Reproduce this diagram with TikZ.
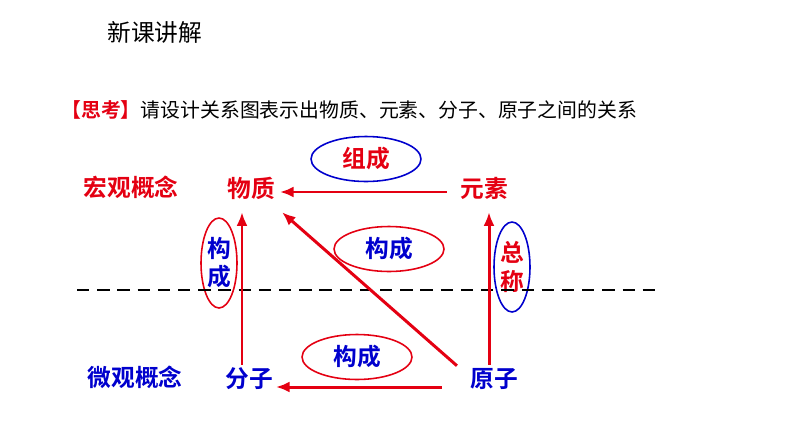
\documentclass[tikz,border=0pt]{standalone}
\usepackage{fontspec}
\setmainfont{Noto Sans CJK SC}[BoldFont={Noto Sans CJK SC Bold}]
\usetikzlibrary{shapes.geometric,arrows.meta}
\definecolor{hongse}{RGB}{228,0,18}
\definecolor{lanse}{RGB}{0,0,205}

\begin{document}
\begin{tikzpicture}[x=0.02cm,y=-0.02cm,
		concept/.style={font=\fontsize{13.5}{16}\selectfont\bfseries,inner sep=0pt,text height=0.8em,text depth=0.1em},
		oval/.style={draw,ellipse,line width=0.9pt,minimum width=2.2cm,minimum height=0.9cm,inner sep=0pt,font=\fontsize{13.5}{16}\selectfont\bfseries},
		tall/.style={oval,minimum width=0.72cm,minimum height=1.8cm,align=center},
		relarrow/.style={draw=hongse,line width=1.7pt,-{Latex[length=2.7mm,width=2.2mm]}}]
		\useasboundingbox (0,0) rectangle (794,447);
		\node[anchor=west,inner sep=0pt,font=\fontsize{13.5}{16}\selectfont] (title) at (107,32) {新课讲解};
		\node[anchor=west,inner sep=0pt,font=\fontsize{11.3}{14}\selectfont] (question) at (61,110) {\textcolor{hongse}{\bfseries 【思考】}请设计关系图表示出物质、元素、分子、原子之间的关系};
		% levels
		\node[concept,text=hongse] (hongguan) at (131,190) {宏观概念};
		\node[concept,text=lanse] (weiguan) at (135,380) {微观概念};
		% concepts
		\node[concept,text=hongse] (wuzhi) at (251,191) {物质};
		\node[concept,text=hongse] (yuansu) at (484,191) {元素};
		\node[concept,text=lanse] (fenzi) at (249,381) {分子};
		\node[concept,text=lanse] (yuanzi) at (494,381) {原子};
		% relation labels
		\node[oval,draw=lanse,text=hongse] (zucheng) at (366,159) {组成};
		\node[oval,draw=hongse,text=lanse] (goucheng_mid) at (389,249) {构成};
		\node[oval,draw=hongse,text=lanse] (goucheng_low) at (357,357) {构成};
		\node[tall,draw=hongse,text=lanse] (goucheng_left) at (219,263) {构\\成};
		\node[tall,draw=lanse,text=hongse] (zongcheng) at (512,267) {总\\称};
		% macro / micro divider
		\coordinate (divider_l) at (77,290);
		\coordinate (divider_r) at (655,290);
		\draw[line width=1.2pt,dash pattern=on 7pt off 4.5pt] (divider_l) -- (divider_r);
		% arrows
		\draw[relarrow] ([shift={(-13,1)}]yuansu.west) -- ([shift={(5,1)}]wuzhi.east);
		\draw[relarrow] ([shift={(-7,-8)}]fenzi.north) -- ([shift={(-9,13)}]wuzhi.south);
		\draw[relarrow] ([shift={(-5,-8)}]yuanzi.north) -- ([shift={(5,13)}]yuansu.south);
		\draw[relarrow] ([shift={(-13,-7)}]yuanzi.north west) -- ([shift={(7,13)}]wuzhi.south east);
		\draw[relarrow] ([shift={(-28,6)}]yuanzi.west) -- ([shift={(3,6)}]fenzi.east);
\end{tikzpicture}
\end{document}
